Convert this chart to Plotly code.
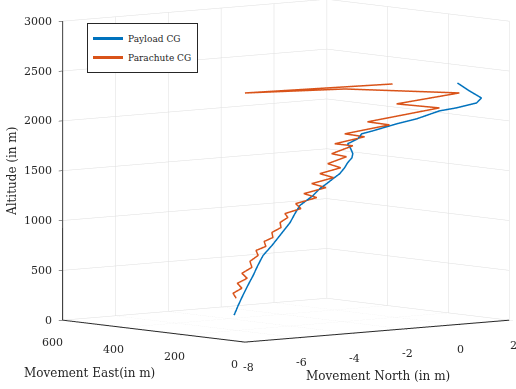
import plotly.graph_objects as go
import math

# ---- data (North [m], East [m], Altitude [m]) ----
payload_north = [0.13, 0.76, 1.36, 1.28, 0.63, 0.05, -0.64, -1.29, -2.05, -2.40, -2.44,
                 -2.71, -2.49, -2.31, -2.26, -2.31, -2.32, -2.38, -2.53, -2.65, -2.81,
                 -2.92, -3.20, -3.22, -3.21, -3.32, -3.40, -3.53, -3.51, -3.48, -3.46,
                 -3.43, -3.40, -3.34]
payload_east = [8, 23, 36, 45, 55, 60, 75, 84, 97, 103, 112,
                122, 131, 140, 147, 157, 166, 177, 186, 196, 205,
                218, 237, 251, 268, 292, 311, 329, 348, 366, 385,
                404, 422, 441]
payload_alt = [2418, 2319, 2231, 2179, 2140, 2121, 2051, 2012, 1953, 1929, 1877,
               1829, 1771, 1714, 1670, 1617, 1564, 1501, 1451, 1401, 1351,
               1278, 1178, 1093, 996, 860, 755, 651, 544, 436, 329,
               222, 114, 6]

chute_north = [-2.30, -7.69, -4.00, 0.42, -1.72, -0.01, -2.43, -1.54, -3.04, -2.22,
               -3.21, -2.48, -3.11, -2.48, -3.04, -2.47, -3.13, -2.52, -3.22, -2.60,
               -3.31, -2.73, -3.40, -3.10, -3.60, -3.40, -3.59, -3.45, -3.68, -3.54,
               -3.79, -3.61, -3.90, -3.72, -3.89, -3.69, -3.94, -3.64, -3.91, -3.62,
               -3.85, -3.63]
chute_east = [10, 27, 19, 27, 47, 55, 81, 86, 103, 109,
              121, 125, 140, 146, 159, 166, 177, 185, 196, 203,
              214, 222, 233, 242, 251, 259, 268, 277, 287, 296,
              303, 313, 320, 329, 341, 352, 363, 372, 381, 391,
              400, 409]
chute_alt = [2461, 2483, 2445, 2305, 2235, 2154, 2058, 2006, 1943, 1893,
             1840, 1803, 1731, 1685, 1623, 1567, 1518, 1462, 1413, 1357,
             1308, 1253, 1203, 1143, 1101, 1054, 1005, 948, 900, 843,
             806, 749, 712, 655, 595, 526, 468, 408, 360, 301,
             252, 194]

north_ticks = [-8, -6, -4, -2, 0, 2]
east_ticks = [0, 200, 400, 600]
alt_ticks = [0, 500, 1000, 1500, 2000, 2500, 3000]

FONT = "DejaVu Serif"
TXT = "rgb(38,38,38)"
fig = go.Figure()
fig.add_trace(go.Scatter3d(x=payload_north, y=payload_east, z=payload_alt, mode="lines",
                           name="Payload CG", line=dict(color="#0072BD", width=3)))
fig.add_trace(go.Scatter3d(x=chute_north, y=chute_east, z=chute_alt, mode="lines",
                           name="Parachute CG", line=dict(color="#D95319", width=3)))

axis_common = dict(showbackground=False, gridcolor="rgb(222,222,222)", gridwidth=1,
                   showline=True, linecolor=TXT, linewidth=2,
                   zeroline=False, ticks="outside", tickcolor=TXT,
                   ticklen=5, showticklabels=False, title=dict(text=""),
                   showspikes=False)

el = math.radians(5.73)
beta = math.radians(50.3)
dist = 2.0
zoom = 1.545
ppu = 195.0
sh_r, sh_u = -28.0 / ppu, -24.0 / ppu
center = dict(x=sh_r * math.sin(beta), y=-sh_r * math.cos(beta), z=sh_u)
eye = dict(x=center["x"] - dist * math.cos(el) * math.cos(beta),
           y=center["y"] - dist * math.cos(el) * math.sin(beta),
           z=center["z"] + dist * math.sin(el))

tickfont = dict(family=FONT, size=11, color=TXT)
scene_ann = []
for t in north_ticks:
    scene_ann.append(dict(x=t, y=0, z=0, text=str(t), showarrow=False,
                          xshift=4, yshift=-25, font=tickfont))
for t in east_ticks:
    scene_ann.append(dict(x=-8, y=t, z=0, text=str(t), showarrow=False,
                          xshift=-10, yshift=-22, font=tickfont))
for t in alt_ticks:
    scene_ann.append(dict(x=-8, y=600, z=t, text=str(t), showarrow=False,
                          xanchor="right", xshift=-9, font=tickfont))

titlefont = dict(family=FONT, size=12, color=TXT)
paper_ann = [
    dict(x=12 / 516, y=1 - 172 / 389, xref="paper", yref="paper", text="Altitude (in m)",
         textangle=-90, showarrow=False, font=titlefont, xanchor="center", yanchor="middle"),
    dict(x=89 / 516, y=1 - 373 / 389, xref="paper", yref="paper", text="Movement East(in m)",
         showarrow=False, font=titlefont, xanchor="center", yanchor="middle"),
    dict(x=378 / 516, y=1 - 376 / 389, xref="paper", yref="paper", text="Movement North (in m)",
         showarrow=False, font=titlefont, xanchor="center", yanchor="middle"),
]

fig.update_layout(
    width=516, height=389,
    paper_bgcolor="white",
    margin=dict(l=0, r=0, t=0, b=0),
    font=dict(family=FONT, size=11, color=TXT),
    showlegend=True,
    annotations=paper_ann,
    legend=dict(x=87 / 516, y=1 - 23 / 389, xanchor="left", yanchor="top",
                bgcolor="white", bordercolor=TXT, borderwidth=1,
                font=dict(family=FONT, size=9, color=TXT), tracegroupgap=0),
    scene=dict(
        domain=dict(x=[0, 1], y=[0, 1]),
        xaxis=dict(axis_common, range=[-8, 2], tickvals=north_ticks),
        yaxis=dict(axis_common, range=[0, 600], tickvals=east_ticks),
        zaxis=dict(axis_common, range=[0, 3000], tickvals=alt_ticks),
        aspectmode="manual",
        aspectratio=dict(x=1.143 * zoom, y=0.95 * zoom, z=1.0 * zoom),
        camera=dict(eye=eye, up=dict(x=0, y=0, z=1), center=center,
                    projection=dict(type="orthographic")),
        annotations=scene_ann,
    ),
)

fig.write_html("out.html")
